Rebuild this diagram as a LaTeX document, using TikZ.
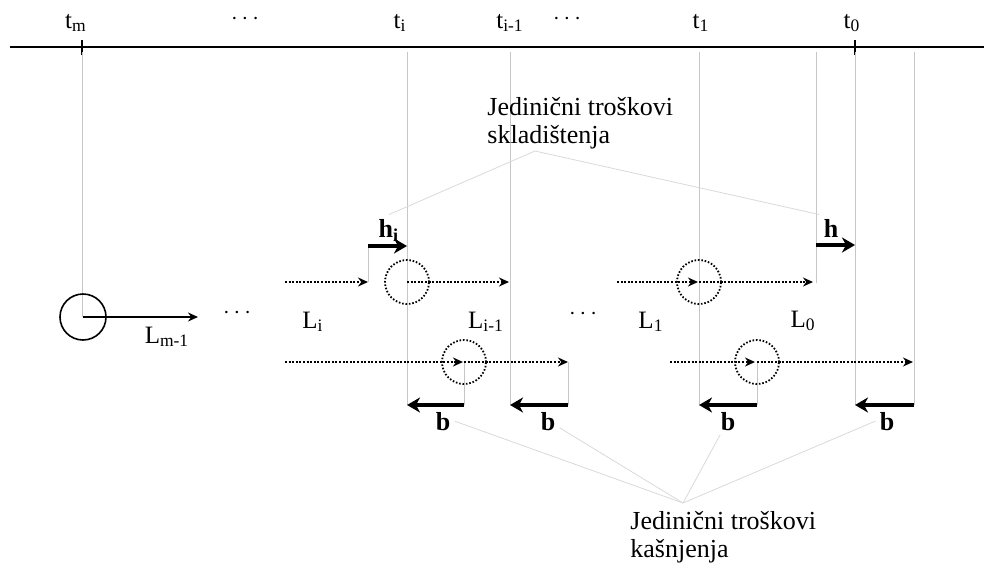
\documentclass[tikz,border=0pt]{standalone}
\usepackage{fontspec}
\setmainfont{Liberation Serif}
\usetikzlibrary{arrows.meta}

\tikzset{
  guide/.style={draw=gray!45, line width=0.4pt},
  pointer/.style={draw=gray!30, line width=0.4pt},
  flow/.style={line width=1.2pt, dash pattern=on 1pt off 0.8pt, -{Stealth[length=5pt,width=4.5pt]}},
  ring/.style={line width=0.9pt, dash pattern=on 0.8pt off 0.9pt},
  cost/.style={line width=2pt, -{Stealth[length=6.5pt,width=7.5pt,inset=2pt]}},
  lbl/.style={font=\fontsize{12.5}{14}\selectfont, anchor=base},
  costlbl/.style={font=\fontsize{13}{15}\selectfont\bfseries, anchor=base, inner sep=2pt},
  note/.style={font=\fontsize{13}{14}\selectfont, align=left, anchor=north west, inner sep=0pt},
}

\begin{document}
\begin{tikzpicture}[x=0.5pt, y=-0.5pt]
  \useasboundingbox (0,0) rectangle (984,563);

  % time axis
  \draw[line width=1pt] (10,47) -- (984,47);
  \draw[line width=0.8pt] (82,40) -- (82,55);
  \draw[line width=0.8pt] (855,40) -- (855,55);
  \node[lbl] (tm) at (76,28) {t\textsubscript{m}};
  \node[lbl] (dotsa) at (245,24) {$\cdots$};
  \node[lbl] (ti) at (400,28) {t\textsubscript{i}};
  \node[lbl] (tim) at (510,28) {t\textsubscript{i-1}};
  \node[lbl] (dotsb) at (567,24) {$\cdots$};
  \node[lbl] (tone) at (701,28) {t\textsubscript{1}};
  \node[lbl] (tzero) at (852,28) {t\textsubscript{0}};

  % guide lines
  \draw[guide] (82,52) -- (82,317);
  \draw[guide] (407,52) -- (407,405);
  \draw[guide] (510,52) -- (510,405);
  \draw[guide] (699,52) -- (699,405);
  \draw[guide] (816,52) -- (816,283);
  \draw[guide] (855,52) -- (855,405);
  \draw[guide] (914,52) -- (914,405);
  \draw[guide] (368,246) -- (368,282);
  \draw[guide] (464,362) -- (464,405);
  \draw[guide] (568,362) -- (568,405);
  \draw[guide] (757,362) -- (757,405);

  % first order
  \draw[line width=0.8pt] (83,317) circle [radius=11.5pt];
  \draw[line width=0.75pt, -{Stealth[length=5pt,width=4.5pt]}] (83,317) -- (198,317);
  \node[lbl] (lm) at (167,343) {L\textsubscript{m-1}};
  \node[lbl] (dotsc) at (237,318) {$\cdots$};

  % lead times, upper row
  \draw[flow] (285,282) -- (368,282);
  \draw[ring] (407,282) circle [radius=11pt];
  \draw[flow] (407,282) -- (509,282);
  \draw[flow] (617,282) -- (698,282);
  \draw[ring] (699,282) circle [radius=11pt];
  \draw[flow] (699,282) -- (813,282);

  % lead times, lower row
  \draw[flow] (285,362) -- (463,362);
  \draw[ring] (464,362) circle [radius=11pt];
  \draw[flow] (464,362) -- (568,362);
  \draw[flow] (670,362) -- (755,362);
  \draw[ring] (757,362) circle [radius=11pt];
  \draw[flow] (757,362) -- (913,362);

  \node[lbl] (li) at (313,328) {L\textsubscript{i}};
  \node[lbl] (lim) at (486,328) {L\textsubscript{i-1}};
  \node[lbl] (dotsd) at (583,319) {$\cdots$};
  \node[lbl] (lone) at (651,328) {L\textsubscript{1}};
  \node[lbl] (lzero) at (803,327) {L\textsubscript{0}};

  % holding and backorder costs
  \draw[cost] (368,246) -- (407,246);
  \draw[cost] (816,245) -- (855,245);
  \draw[cost] (464,405) -- (407,405);
  \draw[cost] (568,405) -- (510,405);
  \draw[cost] (757,405) -- (699,405);
  \draw[cost] (914,405) -- (855,405);

  \node[costlbl] (hi) at (389,237) {h\textsubscript{i}};
  \node[costlbl] (hz) at (831,237) {h};
  \node[costlbl] (bone) at (443,430) {b};
  \node[costlbl] (btwo) at (548,430) {b};
  \node[costlbl] (bthree) at (728,430) {b};
  \node[costlbl] (bfour) at (887,430) {b};

  % notes
  \node[note] (stor) at (487,97) {Jedinični troškovi\\skladištenja};
  \node[note] (late) at (630,511) {Jedinični troškovi\\kašnjenja};
  \coordinate (sk) at (535,151);
  \coordinate (ka) at (683,503);
  \draw[pointer] (sk) -- (hi.north);
  \draw[pointer] (sk) -- (hz.north west);
  \draw[pointer] (ka) -- (bone.east);
  \draw[pointer] (ka) -- (btwo.-30);
  \draw[pointer] (ka) -- (bthree.-120);
  \draw[pointer] (ka) -- (bfour.west);
\end{tikzpicture}
\end{document}
